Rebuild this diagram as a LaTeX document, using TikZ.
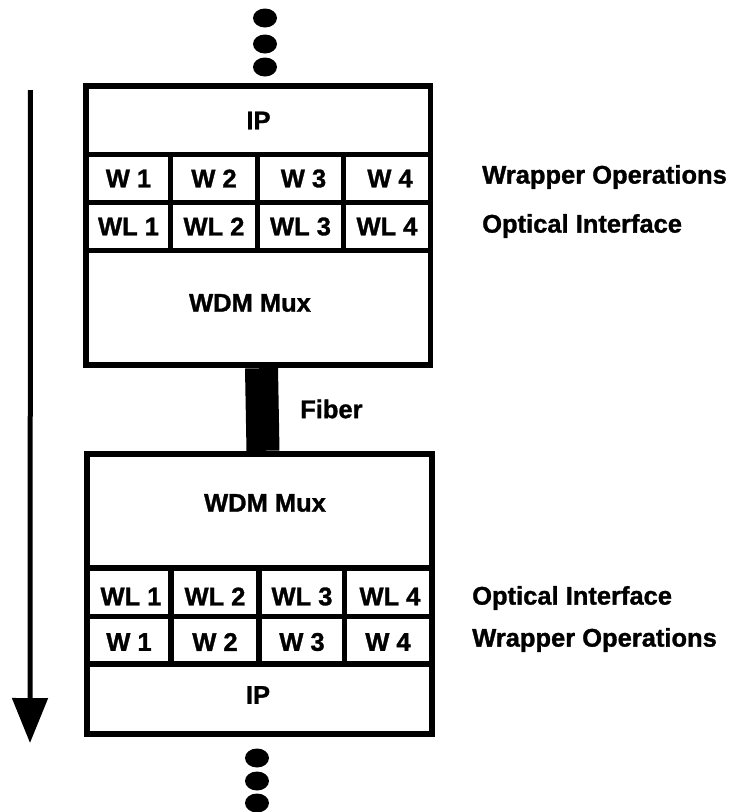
\documentclass[tikz,border=0pt]{standalone}
\usepackage{fontspec}
\setmainfont{Liberation Sans}
\newfontfamily\heavyface{Liberation Sans Bold}[FakeBold=1.2]
\usetikzlibrary{arrows.meta,shapes.geometric}

\begin{document}
\begin{tikzpicture}[x=1pt,y=-1pt,
  lbl/.style={font=\heavyface\fontsize{25.5}{25.5}\selectfont, inner sep=0pt},
  cellbox/.style={fill=white, draw=none, inner sep=0pt, minimum width=#1},
  blockbg/.style={fill=black, draw=none, inner sep=0pt},
  dot/.style={ellipse, fill=black, inner sep=0pt, minimum width=24pt, minimum height=19pt},
]
\useasboundingbox (0,0) rectangle (736,812);

% ---------- upper stack ----------
\node[blockbg, minimum width=350pt, minimum height=285pt] (topblk) at (258,225.5) {};
\node[cellbox=339pt, minimum height=63pt] (ipA) at (258.5,120.5) {};
\node[lbl] at (ipA) {IP};
% wrapper row
\node[cellbox=79pt, minimum height=43pt] (wA1) at (128.5,178.5) {};
\node[cellbox=82pt, minimum height=43pt] (wA2) at (214,178.5) {};
\node[cellbox=81pt, minimum height=43pt] (wA3) at (300.5,178.5) {};
\node[cellbox=82pt, minimum height=43pt] (wA4) at (387,178.5) {};
\node[lbl] at (wA1) {W 1};
\node[lbl] at (wA2) {W 2};
\node[lbl] at ([xshift=3pt]wA3) {W 3};
\node[lbl] at ([xshift=3pt]wA4) {W 4};
% wavelength row
\node[cellbox=79pt, minimum height=43pt] (lA1) at (128.5,226.5) {};
\node[cellbox=82pt, minimum height=43pt] (lA2) at (214,226.5) {};
\node[cellbox=81pt, minimum height=43pt] (lA3) at (300.5,226.5) {};
\node[cellbox=82pt, minimum height=43pt] (lA4) at (387,226.5) {};
\node[lbl] at (lA1) {WL 1};
\node[lbl] at (lA2) {WL 2};
\node[lbl] at (lA3) {WL 3};
\node[lbl] at (lA4) {WL 4};
% multiplexer
\node[cellbox=339pt, minimum height=109pt] (muxA) at (258.5,307.5) {};
\node[lbl] at (250,303) {WDM Mux};

% ---------- lower stack ----------
\node[blockbg, minimum width=351pt, minimum height=286pt] (botblk) at (259.5,594) {};
\node[cellbox=339pt, minimum height=108pt] (muxB) at (259.5,511) {};
\node[lbl] at (265,503) {WDM Mux};
% wavelength row
\node[cellbox=78pt, minimum height=43pt] (lB1) at (129,592.5) {};
\node[cellbox=82pt, minimum height=43pt] (lB2) at (215,592.5) {};
\node[cellbox=80pt, minimum height=43pt] (lB3) at (302,592.5) {};
\node[cellbox=82pt, minimum height=43pt] (lB4) at (388,592.5) {};
\node[lbl] at ([xshift=2pt,yshift=-4pt]lB1) {WL 1};
\node[lbl] at ([yshift=-4pt]lB2) {WL 2};
\node[lbl] at ([yshift=-4pt]lB3) {WL 3};
\node[lbl] at ([xshift=2pt,yshift=-4pt]lB4) {WL 4};
% wrapper row
\node[cellbox=78pt, minimum height=42pt] (wB1) at (129,640) {};
\node[cellbox=82pt, minimum height=42pt] (wB2) at (215,640) {};
\node[cellbox=80pt, minimum height=42pt] (wB3) at (302,640) {};
\node[cellbox=82pt, minimum height=42pt] (wB4) at (388,640) {};
\node[lbl] at ([yshift=-2pt]wB1) {W 1};
\node[lbl] at ([yshift=-2pt]wB2) {W 2};
\node[lbl] at ([yshift=-2pt]wB3) {W 3};
\node[lbl] at ([yshift=-2pt]wB4) {W 4};
\node[cellbox=339pt, minimum height=64pt] (ipB) at (259.5,699) {};
\node[lbl] at (258,695) {IP};

% ---------- fibre link ----------
\draw[line width=33pt] ([xshift=3.5pt]topblk.south) -- ([xshift=3.5pt]botblk.north);
\node[lbl, anchor=west] (fib) at (300,409) {Fiber};

% ---------- layer labels ----------
\node[lbl, anchor=west] (tW) at (482,177) {Wrapper Operations};
\node[lbl, anchor=west] (tO) at (482,226) {Optical Interface};
\node[lbl, anchor=west] (bO) at (472,598) {Optical Interface};
\node[lbl, anchor=west] (bW) at (472,640) {Wrapper Operations};

% ---------- continuation dots ----------
\node[dot] (d1) at (265,18) {};
\node[dot] (d2) at (265,44) {};
\node[dot] (d3) at (265,67) {};
\node[dot] (d4) at (257,758) {};
\node[dot] (d5) at (257,781) {};
\node[dot] (d6) at (257,803) {};

% ---------- direction of flow ----------
\coordinate (flowS) at (30.5,90);
\coordinate (flowE) at (30,743);
\draw[line width=5pt, -{Triangle[length=45pt,width=35pt]}] (flowS) -- (flowE);
\end{tikzpicture}
\end{document}
